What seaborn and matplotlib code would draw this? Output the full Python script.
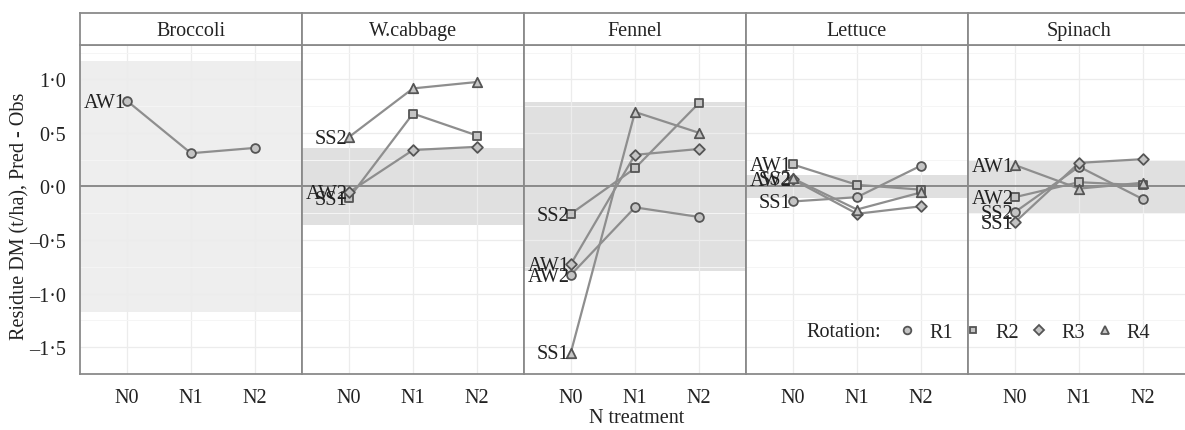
import numpy as np
import pandas as pd
import matplotlib
matplotlib.use("Agg")
import matplotlib.pyplot as plt
from matplotlib.lines import Line2D
import seaborn as sns

# =========================
# DATA
# =========================
crops = ["Broccoli", "W.cabbage", "Fennel", "Lettuce", "Spinach"]
levels = ["N0", "N1", "N2"]
band_half = [1.17, 0.36, 0.79, 0.11, 0.245]

broccoli_sites = ["AW1"]
broccoli_rot = ["R1"]
broccoli_vals = [[0.80, 0.31, 0.36]]

wcabbage_sites = ["SS2", "SS1", "AW2"]
wcabbage_rot = ["R4", "R2", "R3"]
wcabbage_vals = [[0.46, 0.915, 0.975], [-0.11, 0.68, 0.475], [-0.055, 0.34, 0.37]]

fennel_sites = ["SS2", "SS1", "AW1", "AW2"]
fennel_rot = ["R2", "R4", "R3", "R1"]
fennel_vals = [[-0.255, 0.17, 0.78], [-1.55, 0.695, 0.50],
               [-0.725, 0.295, 0.35], [-0.825, -0.195, -0.285]]

lettuce_sites = ["AW1", "SS2", "AW2", "SS1"]
lettuce_rot = ["R2", "R4", "R3", "R1"]
lettuce_vals = [[0.205, 0.015, -0.03], [0.075, -0.215, -0.055],
                [0.065, -0.255, -0.185], [-0.14, -0.10, 0.195]]

spinach_sites = ["AW1", "AW2", "SS2", "SS1"]
spinach_rot = ["R4", "R2", "R1", "R3"]
spinach_vals = [[0.20, -0.02, 0.035], [-0.10, 0.04, 0.01],
                [-0.24, 0.185, -0.12], [-0.335, 0.22, 0.255]]

rotations = ["R1", "R2", "R3", "R4"]
yticks = [-1.5, -1.0, -0.5, 0.0, 0.5, 1.0]
yticklabels = ["\u20131\u00b75", "\u20131\u00b70", "\u20130\u00b75", "0\u00b70", "0\u00b75", "1\u00b70"]

# =========================
# LONG TABLE
# =========================
groups = {
    "Broccoli": (broccoli_sites, broccoli_rot, broccoli_vals),
    "W.cabbage": (wcabbage_sites, wcabbage_rot, wcabbage_vals),
    "Fennel": (fennel_sites, fennel_rot, fennel_vals),
    "Lettuce": (lettuce_sites, lettuce_rot, lettuce_vals),
    "Spinach": (spinach_sites, spinach_rot, spinach_vals),
}
rows = []
for crop, (sites, rots, vals) in groups.items():
    for s, r, v in zip(sites, rots, vals):
        for i, lev in enumerate(levels):
            rows.append({"crop": crop, "site": s, "rot": r, "N": lev, "xi": i, "val": v[i]})
df = pd.DataFrame(rows)

# =========================
# STYLE
# =========================
sns.set_style("white")
plt.rcParams["font.family"] = ["Liberation Serif", "DejaVu Serif"]
plt.rcParams["font.size"] = 14

FS = 14.5
BORDER = "#8a8a8a"
LINE_C = "#8e8e8e"
EDGE_C = "#555555"
FILL_C = "#c4c4c4"
marker_map = {"R1": "o", "R2": "s", "R3": "D", "R4": "^"}
marker_size = {"R1": 40, "R2": 34, "R3": 30, "R4": 46}
legend_msize = {"R1": 5.5, "R2": 5, "R3": 4.6, "R4": 6}

W, H = 1185, 431
fig = plt.figure(figsize=(W / 100, H / 100), dpi=100)

left_px, pan_w = 80, 222
top_px, bot_px, strip_top = 46, 375, 14

for k, crop in enumerate(crops):
    x0 = (left_px + k * pan_w) / W
    ax = fig.add_axes([x0, 1 - bot_px / H, pan_w / W, (bot_px - top_px) / H])
    sub = df[df["crop"] == crop]

    band_col = "#eeeeee" if k == 0 else "#e0e0e0"
    ax.axhspan(-band_half[k], band_half[k], color=band_col, zorder=0.5, lw=0)
    ax.axhline(0, color="#7a7a7a", lw=1.2, zorder=1)

    sns.lineplot(data=sub, x="xi", y="val", units="site", estimator=None,
                 color=LINE_C, lw=1.6, ax=ax, legend=False, zorder=2)
    for r in rotations:
        rs = sub[sub["rot"] == r]
        if len(rs) == 0:
            continue
        sns.scatterplot(data=rs, x="xi", y="val", marker=marker_map[r],
                        s=marker_size[r], color=FILL_C, edgecolor=EDGE_C,
                        linewidth=1.3, ax=ax, legend=False, zorder=3)

    # site labels at N0
    n0 = sub[sub["xi"] == 0]
    for _, rw in n0.iterrows():
        ax.annotate(rw["site"], (rw["xi"], rw["val"]), xytext=(-1, -1),
                    textcoords="offset points", ha="right", va="center",
                    fontsize=FS, color="#222222", zorder=4)

    ax.set_xlim(-0.73, 2.73)
    ax.set_ylim(-1.69, 1.32)
    ax.set_xticks(range(len(levels)))
    ax.set_xticklabels(levels, fontsize=FS)
    ax.set_yticks(yticks)
    ax.set_yticks(np.arange(-1.75, 1.5, 0.5), minor=True)
    if k == 0:
        ax.set_yticklabels(yticklabels, fontsize=FS)
    else:
        ax.set_yticklabels([])
        ax.tick_params(axis="y", length=0)
    ax.set_xlabel("")
    ax.set_ylabel("")
    ax.grid(True, which="major", color="#ececec", lw=0.9, zorder=0)
    ax.grid(True, which="minor", axis="y", color="#f5f5f5", lw=0.7, zorder=0)
    ax.set_axisbelow(True)
    ax.tick_params(axis="both", direction="out", length=4, width=1,
                   color=BORDER, pad=6, labelcolor="#222222")
    ax.tick_params(axis="y", which="minor", length=0)
    if k == 0:
        ax.tick_params(axis="y", which="major", length=4)
    for sp in ax.spines.values():
        sp.set_color(BORDER)
        sp.set_linewidth(1.3)
        sp.set_visible(True)

    # strip
    sax = fig.add_axes([x0, 1 - top_px / H, pan_w / W, (top_px - strip_top) / H])
    sax.set_xticks([])
    sax.set_yticks([])
    sax.set_facecolor("white")
    for sp in sax.spines.values():
        sp.set_color(BORDER)
        sp.set_linewidth(1.3)
    sax.text(0.5, 0.45, crop, ha="center", va="center", fontsize=FS,
             color="#222222", transform=sax.transAxes)

fig.text(20 / W, 1 - 216 / H, "Residue DM (t/ha), Pred - Obs", rotation=90,
         ha="center", va="center", fontsize=FS, color="#222222")
fig.text(637 / W, 1 - 419 / H, "N treatment", ha="center", va="center",
         fontsize=FS, color="#222222")

# legend
leg_y = 1 - 333 / H
fig.text(806 / W, leg_y, "Rotation:", ha="left", va="center", fontsize=FS, color="#222222")
handles = [Line2D([], [], ls="none", marker=marker_map[r], markersize=legend_msize[r],
                  markerfacecolor=FILL_C, markeredgecolor=EDGE_C, markeredgewidth=1.3)
           for r in rotations]
fig.legend(handles, rotations, ncol=4, loc="center left",
           bbox_to_anchor=(897 / W, leg_y), frameon=False, fontsize=FS,
           handlelength=1.0, handletextpad=0.6, columnspacing=0.5,
           borderaxespad=0, borderpad=0)

fig.savefig("out.png", dpi=100)
